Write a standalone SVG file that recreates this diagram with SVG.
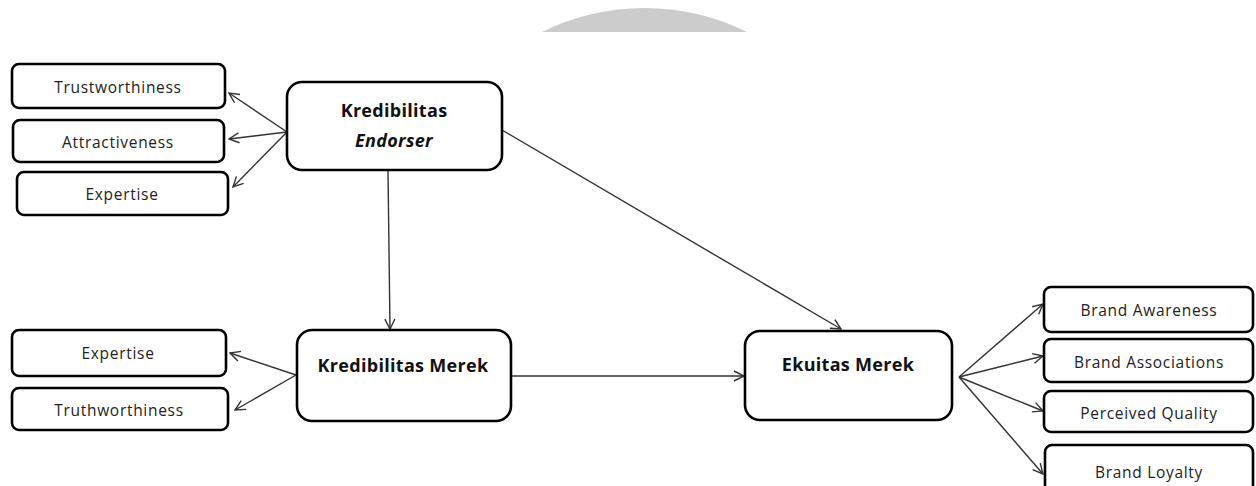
<svg xmlns="http://www.w3.org/2000/svg" width="1256" height="486" viewBox="0 0 1256 486">
<defs>
<marker id="arr" viewBox="0 0 12 12" refX="11" refY="6" markerWidth="12" markerHeight="12" markerUnits="userSpaceOnUse" orient="auto">
<path d="M1,1 L11,6 L1,11" fill="none" stroke="#333" stroke-width="1.4"/>
</marker>
<style>
.box{fill:#fff;stroke:#000;stroke-width:2.6}
.lbl{font-family:"Open Sans","Liberation Sans",sans-serif;font-size:15.5px;letter-spacing:0.7px;fill:#222;text-anchor:middle;dominant-baseline:central}
.main{font-family:"Open Sans","Liberation Sans",sans-serif;font-size:18px;letter-spacing:0.3px;font-weight:bold;fill:#111;text-anchor:middle;dominant-baseline:central}
.con{fill:none;stroke:#333;stroke-width:1.4;marker-end:url(#arr)}
</style>
</defs>
<rect width="1256" height="486" fill="#fff"/>
<path d="M542,32 A231,231 0 0 1 747,32 Z" fill="#cccccc"/>
<g id="connectors">
<line class="con" x1="287" y1="132" x2="229" y2="93"/>
<line class="con" x1="287" y1="132" x2="229" y2="139"/>
<line class="con" x1="287" y1="132" x2="233" y2="187"/>
<line class="con" x1="388" y1="171" x2="390" y2="329"/>
<line class="con" x1="502" y1="130" x2="841" y2="329"/>
<line class="con" x1="296" y1="375" x2="230" y2="353"/>
<line class="con" x1="296" y1="375" x2="235" y2="410"/>
<line class="con" x1="511" y1="376" x2="744" y2="376"/>
<line class="con" x1="959" y1="377" x2="1043" y2="304"/>
<line class="con" x1="959" y1="377" x2="1043" y2="356"/>
<line class="con" x1="959" y1="377" x2="1043" y2="411"/>
<line class="con" x1="959" y1="377" x2="1043" y2="474"/>
</g>
<g id="trustworthiness"><rect class="box" x="12" y="64" width="213" height="44" rx="7"/><text class="lbl" x="118" y="87">Trustworthiness</text></g>
<g id="attractiveness"><rect class="box" x="13" y="120" width="211" height="42" rx="7"/><text class="lbl" x="118" y="142">Attractiveness</text></g>
<g id="expertise1"><rect class="box" x="17" y="172" width="211" height="43" rx="7"/><text class="lbl" x="122" y="194">Expertise</text></g>
<g id="kredibilitas-endorser"><rect class="box" x="287" y="82" width="215" height="88" rx="15"/><text class="main" x="394" y="110">Kredibilitas</text><text class="main" x="394" y="140" font-style="italic">Endorser</text></g>
<g id="expertise2"><rect class="box" x="12" y="330" width="214" height="46" rx="7"/><text class="lbl" x="118" y="353">Expertise</text></g>
<g id="truthworthiness"><rect class="box" x="12" y="388" width="216" height="42" rx="7"/><text class="lbl" x="119" y="410">Truthworthiness</text></g>
<g id="kredibilitas-merek"><rect class="box" x="297" y="330" width="214" height="91" rx="15"/><text class="main" x="403" y="365">Kredibilitas Merek</text></g>
<g id="ekuitas-merek"><rect class="box" x="745" y="331" width="207" height="89" rx="15"/><text class="main" x="848" y="364">Ekuitas Merek</text></g>
<g id="brand-awareness"><rect class="box" x="1044" y="287" width="209" height="45" rx="7"/><text class="lbl" x="1149" y="310">Brand Awareness</text></g>
<g id="brand-associations"><rect class="box" x="1044" y="339" width="209" height="43" rx="7"/><text class="lbl" x="1149" y="362">Brand Associations</text></g>
<g id="perceived-quality"><rect class="box" x="1044" y="391" width="209" height="41" rx="7"/><text class="lbl" x="1149" y="413">Perceived Quality</text></g>
<g id="brand-loyalty"><rect class="box" x="1045" y="445" width="208" height="50" rx="7"/><text class="lbl" x="1149" y="472">Brand Loyalty</text></g>
</svg>
